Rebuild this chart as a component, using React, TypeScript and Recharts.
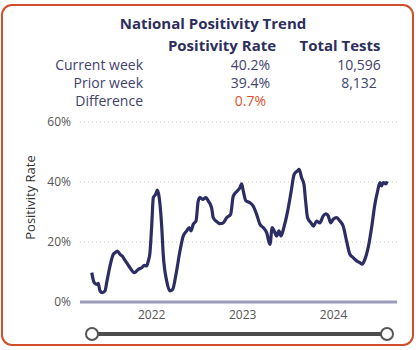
import React from "react";
import { LineChart, Line, XAxis, YAxis, CartesianGrid } from "recharts";

// Week (as decimal year) and national positivity rate (%)
const weeks: number[] = [
  2021.341, 2021.369, 2021.396, 2021.413, 2021.432, 2021.457, 2021.487, 2021.505,
  2021.542, 2021.578, 2021.597, 2021.622, 2021.652, 2021.677, 2021.696, 2021.725,
  2021.762, 2021.809, 2021.853, 2021.89, 2021.919, 2021.945, 2021.963, 2021.981,
  2022.0, 2022.018, 2022.044, 2022.062, 2022.08, 2022.091, 2022.11, 2022.127,
  2022.165, 2022.201, 2022.231, 2022.267, 2022.311, 2022.347, 2022.385, 2022.413,
  2022.432, 2022.457, 2022.487, 2022.512, 2022.531, 2022.56, 2022.597, 2022.622,
  2022.659, 2022.677, 2022.707, 2022.751, 2022.787, 2022.824, 2022.868, 2022.897,
  2022.941, 2022.97, 2022.989, 2023.007, 2023.036, 2023.08, 2023.116, 2023.154,
  2023.19, 2023.226, 2023.264, 2023.3, 2023.325, 2023.347, 2023.374, 2023.399,
  2023.421, 2023.457, 2023.495, 2023.531, 2023.567, 2023.604, 2023.622, 2023.648,
  2023.674, 2023.692, 2023.714, 2023.751, 2023.778, 2023.813, 2023.849, 2023.886,
  2023.915, 2023.941, 2023.967, 2023.996, 2024.033, 2024.069, 2024.105, 2024.143,
  2024.179, 2024.215, 2024.253, 2024.289, 2024.314, 2024.344, 2024.38, 2024.418,
  2024.454, 2024.484, 2024.509, 2024.527, 2024.545, 2024.575, 2024.589,
];

const positivity: number[] = [
  9.8, 6.4, 5.9, 6.2, 3.7, 3.1, 3.7, 6.4,
  12.0, 15.9, 16.4, 17.0, 15.9, 15.3, 14.4, 13.1,
  11.4, 9.8, 10.9, 11.4, 12.2, 12.0, 13.7, 16.4,
  25.3, 34.8, 35.9, 37.3, 35.3, 32.6, 25.3, 15.9,
  7.0, 3.7, 4.2, 9.2, 17.0, 22.0, 23.7, 24.8,
  23.7, 25.9, 27.0, 33.7, 34.8, 34.2, 34.8, 33.7,
  31.4, 28.1, 27.0, 26.1, 26.4, 28.1, 29.2, 35.3,
  37.0, 38.1, 39.4, 37.0, 33.7, 33.1, 32.0, 29.2,
  25.9, 24.8, 23.1, 19.2, 24.8, 23.7, 22.0, 23.7,
  22.0, 25.3, 30.3, 36.4, 42.6, 43.7, 44.2, 41.4,
  39.2, 33.7, 28.1, 26.4, 25.3, 27.0, 26.4, 28.7,
  29.4, 28.7, 26.4, 27.6, 28.1, 27.0, 25.3, 20.3,
  15.9, 14.8, 13.7, 13.1, 12.6, 14.2, 18.1, 24.8,
  32.6, 37.0, 39.8, 38.7, 39.8, 39.4, 40.2,
];

const xTicks: number[] = [2022, 2023, 2024];
const yTicks: number[] = [0, 20, 40, 60];

const rowLabels: string[] = ["Current week", "Prior week", "Difference"];
const rateValues: string[] = ["40.2%", "39.4%", "0.7%"];
const testValues: string[] = ["10,596", "8,132", ""];

const data = weeks.map((t, i) => ({ t, rate: positivity[i] }));

const FONT = "'Open Sans', 'Noto Sans', sans-serif";
const NAVY = "#2e2e5c";
const LABEL = "#42426e";

export default function App() {
  return (
    <div
      style={{
        position: "absolute",
        left: 0,
        top: 0,
        width: 420,
        height: 350,
        background: "#fff",
        fontFamily: FONT,
      }}
    >
      <div
        style={{
          position: "absolute",
          left: 1,
          top: 4,
          width: 413,
          height: 342,
          boxSizing: "border-box",
          border: "2px solid #d24d2b",
          borderRadius: 11,
        }}
      />
      <div style={{ position: "absolute", left: 0, top: 0 }}>
        <LineChart
          width={420}
          height={350}
          data={data}
          margin={{ top: 122, right: 23, bottom: 18, left: 20 }}
        >
          <CartesianGrid
            vertical={false}
            stroke="#c9c9c9"
            strokeDasharray="1 3"
          />
          <XAxis
            dataKey="t"
            type="number"
            domain={[2021.212, 2024.697]}
            ticks={xTicks}
            tickFormatter={(v: number) => String(v)}
            axisLine={{ stroke: "#9c9cb8", strokeWidth: 3 }}
            tickLine={false}
            tick={{ fill: "#555", fontSize: 12, fontFamily: FONT }}
            height={30}
            allowDataOverflow
          />
          <YAxis
            type="number"
            domain={[0, 60]}
            ticks={yTicks}
            tickFormatter={(v: number) => `${v}%`}
            axisLine={false}
            tickLine={false}
            tickSize={6}
            tickMargin={3}
            tick={{ fill: "#555", fontSize: 12, fontFamily: FONT }}
            width={60}
          />
          <Line
            type="monotone"
            dataKey="rate"
            stroke="#2c2e63"
            strokeWidth={3.2}
            dot={false}
            isAnimationActive={false}
          />
        </LineChart>
      </div>
      <svg
        width={420}
        height={350}
        style={{ position: "absolute", left: 0, top: 0, pointerEvents: "none" }}
        fontFamily={FONT}
      >
        <text x={213} y={29} textAnchor="middle" fontSize={15} fontWeight="bold" fill={NAVY}>
          National Positivity Trend
        </text>
        <text x={222} y={51} textAnchor="middle" fontSize={15} fontWeight="bold" fill={NAVY}>
          Positivity Rate
        </text>
        <text x={340} y={51} textAnchor="middle" fontSize={15} fontWeight="bold" fill={NAVY}>
          Total Tests
        </text>
        {rowLabels.map((l, i) => (
          <g key={l}>
            <text x={143} y={70 + i * 18} textAnchor="end" fontSize={14} fill={LABEL}>
              {l}
            </text>
            <text
              x={250.5}
              y={70 + i * 18}
              textAnchor="middle"
              fontSize={14}
              fill={i === 2 ? "#e0502a" : LABEL}
            >
              {rateValues[i]}
            </text>
            <text x={359} y={70 + i * 18} textAnchor="middle" fontSize={14} fill={LABEL}>
              {testValues[i]}
            </text>
          </g>
        ))}
        <text
          x={0}
          y={0}
          transform="translate(35,197.5) rotate(-90)"
          textAnchor="middle"
          fontSize={13}
          fill="#333"
        >
          Positivity Rate
        </text>
        <line x1={92} y1={334} x2={387} y2={334} stroke="#4d4d4d" strokeWidth={4} />
        <circle cx={92} cy={334} r={6} fill="#fff" stroke="#555" strokeWidth={2} />
        <circle cx={387} cy={334} r={6} fill="#fff" stroke="#555" strokeWidth={2} />
      </svg>
    </div>
  );
}
